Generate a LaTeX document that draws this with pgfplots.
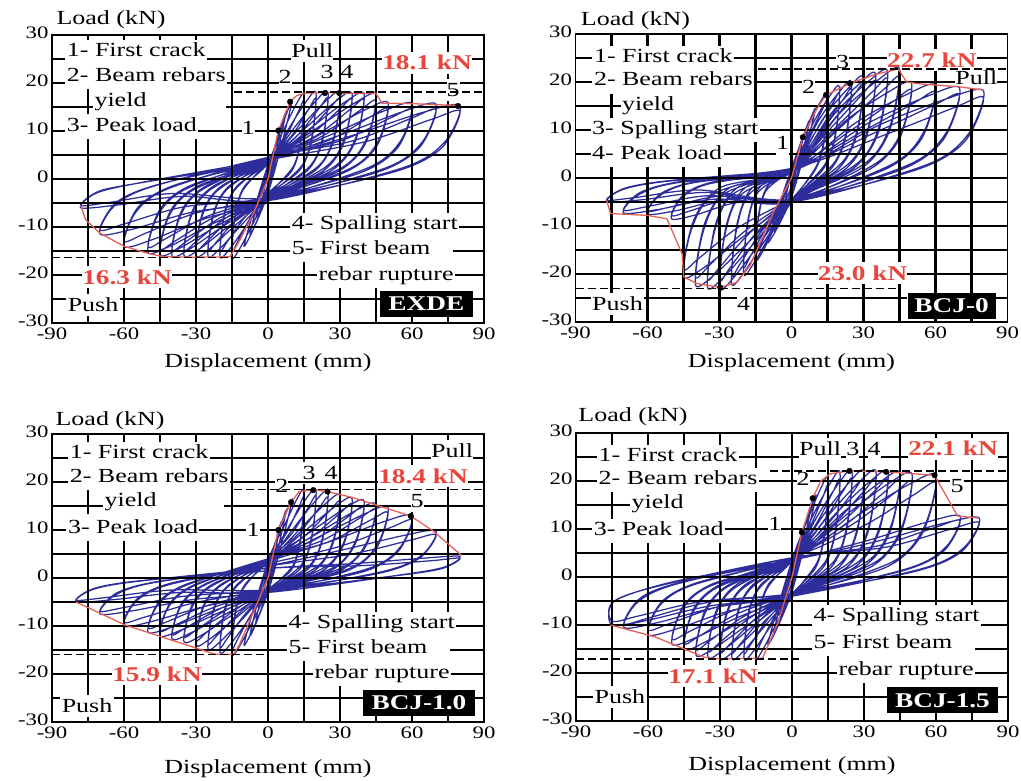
\documentclass[border=0pt]{standalone}
\usepackage{pgfplots}
\pgfplotsset{compat=1.18}
\usepackage{fontspec}
\setmainfont{Liberation Serif}[FakeStretch=1.3]

\definecolor{hblue}{RGB}{45,45,155}
\definecolor{envred}{RGB}{232,95,85}
\definecolor{valred}{RGB}{232,70,60}

\pgfplotsset{
  hyst/.style={
    anchor=south west,
    width=432pt, height=288pt, scale only axis,
    xmin=-90, xmax=90, ymin=-30, ymax=30,
    xtick={-90,-60,...,90}, xticklabels={-90,-60,-30,0,30,60,90},
    ytick={-30,-20,...,30}, yticklabels={-30,-20,-10,0,10,20,30},
    major tick length=0pt, minor tick length=0pt,
    axis line style={line width=1.8pt},
    tick label style={font=\fontsize{17.5}{18}\selectfont},
    xticklabel style={yshift=-1.5pt},
    yticklabel style={yshift=2.5pt},
    clip=false,
  },
  loops/.style={hblue, line width=1.25pt, smooth, tension=0.5},
  envelope/.style={envred, line width=1.3pt},
  peakline/.style={black, line width=1.4pt, dash pattern=on 8pt off 4pt},
  events/.style={only marks, mark=*, mark size=2.8pt, black},
  gridline/.style={black, line width=2.2pt, forget plot},
}
\tikzset{
  txt/.style={font=\fontsize{20}{22}\selectfont},
  leg/.style={txt, anchor=west, inner xsep=1.5pt, inner ysep=0pt,
    minimum height=24.5pt, text height=14pt, text depth=5pt},
  lab/.style={txt, inner sep=1.5pt},
  val/.style={inner sep=1.5pt, text=valred,
    font=\bfseries\fontsize{21}{22}\selectfont},
  tag/.style={fill=black, text=white, inner sep=0pt, minimum height=26pt,
    font=\bfseries\fontsize{21}{22}\selectfont},
}
% grid pieces: horizontal at load #1 from #2 to #3, vertical at displacement #1 from #2 to #3
\newcommand{\hs}[3]{\addplot[gridline] coordinates {(#2,#1) (#3,#1)};}
\newcommand{\vs}[3]{\addplot[gridline] coordinates {(#1,#2) (#1,#3)};}

\begin{document}
\begin{tikzpicture}[x=1pt,y=1pt]
\useasboundingbox (0,0) rectangle (1021,781);

% ---------------- EXDE ----------------
\begin{axis}[hyst, at={(52pt,458pt)}]
\addplot[loops] coordinates {
(0,0) (2.5,5) (0,-1) (-2.5,-4.5) (0,1)
(5,10) (0,-2) (-5,-8) (0,2)
(7.5,14) (0,-2.5) (-7.5,-11.5) (0,2.5)
(10,16.3) (0,-3) (-10,-14) (0,3)
(6.8,10.5) (12,15.8) (15,17.5) (13.8,8.8) (10.5,2.6) (0,-3.5) (-6.8,-9.8) (-12,-14.7) (-15,-16.3) (-13.8,-8.2) (-10.5,-2.4) (0,3.7)
(7.5,8.9) (12.8,14.2) (15,16.1) (13.5,7.2) (9.8,1.6) (0,-3) (-7.5,-8.2) (-12.8,-13.2) (-15,-15) (-13.5,-6.7) (-9.8,-1.5) (0,3.2)
(9,10.8) (16,16.2) (20,18) (18.4,9) (14,2.7) (0,-3.7) (-9,-9.7) (-16,-14.6) (-20,-16.2) (-18.4,-8.1) (-14,-2.4) (0,3.9)
(10,9.1) (17,14.6) (20,16.6) (18,7.5) (13,1.7) (0,-3.2) (-10,-8.2) (-17,-13.1) (-20,-14.9) (-18,-6.7) (-13,-1.5) (0,3.4)
(11.3,10.9) (20,16.3) (25,18.1) (23,9.1) (17.5,2.7) (0,-3.9) (-11.3,-9.7) (-20,-14.5) (-25,-16.1) (-23,-8.1) (-17.5,-2.4) (0,4)
(12.5,9.2) (21.3,14.7) (25,16.7) (22.5,7.5) (16.3,1.7) (0,-3.4) (-12.5,-8.1) (-21.3,-13) (-25,-14.8) (-22.5,-6.7) (-16.3,-1.5) (0,3.5)
(13.5,10.8) (24,16.2) (30,18) (27.6,9) (21,2.7) (0,-4) (-13.5,-9.6) (-24,-14.4) (-30,-16) (-27.6,-8) (-21,-2.4) (0,4.1)
(15,9.1) (25.5,14.6) (30,16.6) (27,7.5) (19.5,1.7) (0,-3.5) (-15,-8.1) (-25.5,-13) (-30,-14.7) (-27,-6.6) (-19.5,-1.5) (0,3.6)
(15.8,10.7) (28,16.1) (35,17.9) (32.2,9) (24.5,2.7) (0,-4.1) (-15.8,-9.6) (-28,-14.4) (-35,-16) (-32.2,-8) (-24.5,-2.4) (0,4.2)
(17.5,9.1) (29.8,14.5) (35,16.5) (31.5,7.4) (22.8,1.6) (0,-3.6) (-17.5,-8.1) (-29.8,-13) (-35,-14.7) (-31.5,-6.6) (-22.8,-1.5) (0,3.7)
(18,10.7) (32,16) (40,17.8) (36.8,8.9) (28,2.7) (0,-4.2) (-18,-9.6) (-32,-14.4) (-40,-16) (-36.8,-8) (-28,-2.4) (0,4.3)
(20,9) (34,14.4) (40,16.4) (36,7.4) (26,1.6) (0,-3.7) (-20,-8.1) (-34,-13) (-40,-14.7) (-36,-6.6) (-26,-1.5) (0,3.8)
(20.3,10.6) (36,15.8) (45,17.6) (41.4,8.8) (31.5,2.6) (0,-4.3) (-20.3,-9.5) (-36,-14.2) (-45,-15.8) (-41.4,-7.9) (-31.5,-2.4) (0,4.2)
(22.5,8.9) (38.3,14.3) (45,16.2) (40.5,7.3) (29.3,1.6) (0,-3.8) (-22.5,-8) (-38.3,-12.8) (-45,-14.5) (-40.5,-6.5) (-29.3,-1.5) (0,3.7)
(22.5,9.5) (40,14.3) (50,15.9) (46,8) (35,2.4) (0,-4.4) (-22.5,-9.2) (-40,-13.8) (-50,-15.3) (-46,-7.7) (-35,-2.3) (0,4.3)
(25,8) (42.5,12.9) (50,14.6) (45,6.6) (32.5,1.5) (0,-3.9) (-25,-7.7) (-42.5,-12.4) (-50,-14.1) (-45,-6.3) (-32.5,-1.4) (0,3.8)
(27,9.4) (48,14.1) (60,15.7) (55.2,7.9) (42,2.4) (0,-4.5) (-27,-8.4) (-48,-12.6) (-60,-14) (-55.2,-7) (-42,-2.1) (0,4.4)
(30,7.9) (51,12.7) (60,14.4) (54,6.5) (39,1.4) (0,-4) (-30,-7.1) (-51,-11.3) (-60,-12.9) (-54,-5.8) (-39,-1.3) (0,3.9)
(31.5,9.4) (56,14) (70,15.6) (64.4,7.8) (49,2.3) (0,-4.5) (-31.5,-6.9) (-56,-10.4) (-70,-11.5) (-64.4,-5.8) (-49,-1.7) (0,4.5)
(35,7.9) (59.5,12.6) (70,14.4) (63,6.5) (45.5,1.4) (0,-4) (-35,-5.8) (-59.5,-9.3) (-70,-10.6) (-63,-4.8) (-45.5,-1.1) (0,4)
(36,9.2) (64,13.8) (80,15.3) (73.6,7.7) (56,2.3) (0,-4.5) (-35.1,-3.6) (-62.4,-5.4) (-78,-6) (-71.8,-3) (-54.6,-0.9) (0,4)
(40,7.7) (68,12.4) (80,14.1) (72,6.3) (52,1.4) (0,-4) (-39,-3) (-66.3,-4.9) (-78,-5.5) (-70.2,-2.5) (-50.7,-0.6) (0,3.5)
};
% grid, left open where the annotations sit
\hs{25}{-90}{-84.5} \hs{25}{-25.5}{9.75} \hs{25}{27.25}{47.6} \hs{25}{84.9}{90}
\hs{20}{-90}{-84.5} \hs{20}{-17.05}{4.4} \hs{20}{9.8}{74.4} \hs{20}{79.8}{90}
\hs{15}{-90}{-73} \hs{15}{-17.55}{90}
\hs{10}{-90}{-84.5} \hs{10}{-29.05}{-11} \hs{10}{-5.6}{90}
\hs{5}{-90}{90} \hs{0}{-90}{90} \hs{-5}{-90}{90}
\hs{-10}{-90}{9.2} \hs{-10}{79.65}{90}
\hs{-15}{-90}{9.2} \hs{-15}{77.1}{90}
\hs{-20}{-90}{-77.4} \hs{-20}{-40.1}{20.4} \hs{-20}{77.85}{90}
\hs{-25}{-90}{-84} \hs{-25}{-61.8}{46.6} \hs{-25}{85.4}{90}
\vs{-75}{-30}{-28.6} \vs{-75}{-23.9}{-22.7} \vs{-75}{-18.1}{8.25} \vs{-75}{13.45}{18.7} \vs{-75}{29.05}{30}
\vs{-60}{-30}{-22.7} \vs{-60}{-18.1}{8.25} \vs{-60}{29.05}{30}
\vs{-45}{-30}{-22.7} \vs{-45}{-18.1}{8.25} \vs{-45}{29.05}{30}
\vs{-30}{-30}{8.25} \vs{-30}{29.05}{30}
\vs{-15}{-30}{30} \vs{0}{-30}{30}
\vs{15}{-30}{-17.35} \vs{15}{-7.05}{24.4} \vs{15}{29}{30}
\vs{30}{-30}{-22.75} \vs{30}{-7.05}{30}
\vs{45}{-30}{-22.75} \vs{45}{-7.05}{30}
\vs{60}{-30}{-28.7} \vs{60}{-7.05}{21.9} \vs{60}{26.5}{30}
\vs{75}{-30}{-28.7} \vs{75}{-7.05}{16.2} \vs{75}{20.8}{21.9} \vs{75}{26.5}{30}
\addplot[envelope] coordinates {
(-78,-5.5) (-76,-8.5) (-70,-11.3) (-60,-14) (-50,-15.5) (-43.5,-16.2) (-30,-16.3)
(-15.8,-16.2) (-12,-13) (-6,-7.1) (0,0) (4.3,10.1) (9.2,16.1) (12,17.4) (16,17.9)
(23.7,18) (29.7,17.9) (45,17.8) (47.5,15.8) (60,15.7) (79.2,15.3)
};
\addplot[peakline] coordinates {(-14,18.1) (90,18.1)};
\addplot[peakline] coordinates {(-90,-16.3) (0,-16.3)};
\addplot[events] coordinates {(4.3,10.1) (9.2,16.1) (23.7,17.9) (29.7,17.9) (79.2,15.2)};
\node[leg] at (axis cs:-84.5,26.5) {1- First crack};
\node[leg] at (axis cs:-84.5,21.25) {2- Beam rebars};
\node[leg] at (axis cs:-73,16) {yield};
\node[leg] at (axis cs:-84.5,10.8) {3- Peak load};
\node[leg] at (axis cs:9.2,-9.6) {4- Spalling start};
\node[leg] at (axis cs:9.2,-14.8) {5- First beam};
\node[leg] at (axis cs:20.4,-20.2) {rebar rupture};
\node[lab] at (axis cs:18.5,26.7) {Pull};
\node[val] at (axis cs:66.25,24.2) {18.1 kN};
\node[lab] at (axis cs:-8.3,10.6) {1};
\node[lab] at (axis cs:7.1,21.25) {2};
\node[lab] at (axis cs:24.6,22.3) {3};
\node[lab] at (axis cs:32.9,22.3) {4};
\node[lab] at (axis cs:77.1,18.5) {5};
\node[val] at (axis cs:-58.75,-20.4) {16.3 kN};
\node[lab] at (axis cs:-72.9,-26.25) {Push};
\node[tag, minimum width=93pt] at (axis cs:66,-26) {EXDE};
\node[txt] at (axis cs:-65.4,33.1) {Load (kN)};
\node[txt] at (axis cs:0,-38.3) {Displacement (mm)};
\end{axis}

% ---------------- BCJ-0 ----------------
\begin{axis}[hyst, at={(575.5pt,459pt)}]
\addplot[loops] coordinates {
(0,0) (2.5,5) (0,-1.5) (-2.5,-4.5) (0,1)
(5,9) (0,-2.5) (-5,-8) (0,1.5)
(7.5,12) (0,-3.5) (-7.5,-11) (0,2)
(10,14.5) (0,-4) (-10,-13.5) (0,2)
(6.8,10.5) (12,15.8) (15,17.5) (13.8,8.8) (10.5,2.6) (0,-5) (-6.8,-10.2) (-12,-15.3) (-15,-17) (-13.8,-8.5) (-10.5,-2.6) (0,2)
(7.5,8.9) (12.8,14.2) (15,16.1) (13.5,7.2) (9.8,1.6) (0,-4.5) (-7.5,-8.6) (-12.8,-13.8) (-15,-15.6) (-13.5,-7) (-9.8,-1.6) (0,1.5)
(9,11.4) (16,17.1) (20,19) (18.4,9.5) (14,2.9) (0,-5) (-9,-12) (-16,-18) (-20,-20) (-18.4,-10) (-14,-3) (0,2)
(10,9.6) (17,15.4) (20,17.5) (18,7.9) (13,1.7) (0,-4.5) (-10,-10.1) (-17,-16.2) (-20,-18.4) (-18,-8.3) (-13,-1.8) (0,1.5)
(11.3,12) (20,18) (25,20) (23,10) (17.5,3) (0,-5) (-11.3,-13.2) (-20,-19.8) (-25,-22) (-23,-11) (-17.5,-3.3) (0,2)
(12.5,10.1) (21.3,16.2) (25,18.4) (22.5,8.3) (16.3,1.8) (0,-4.5) (-12.5,-11.1) (-21.3,-17.8) (-25,-20.2) (-22.5,-9.1) (-16.3,-2) (0,1.5)
(13.5,12.6) (24,18.9) (30,21) (27.6,10.5) (21,3.2) (0,-5) (-13.5,-13.8) (-24,-20.7) (-30,-23) (-27.6,-11.5) (-21,-3.5) (0,2)
(15,10.6) (25.5,17) (30,19.3) (27,8.7) (19.5,1.9) (0,-4.5) (-15,-11.6) (-25.5,-18.6) (-30,-21.2) (-27,-9.5) (-19.5,-2.1) (0,1.5)
(15.8,13) (28,19.5) (35,21.7) (32.2,10.9) (24.5,3.3) (0,-5) (-15.8,-13.7) (-28,-20.5) (-35,-22.8) (-32.2,-11.4) (-24.5,-3.4) (0,2)
(17.5,11) (29.8,17.6) (35,20) (31.5,9) (22.8,2) (0,-4.5) (-17.5,-11.5) (-29.8,-18.5) (-35,-21) (-31.5,-9.4) (-22.8,-2.1) (0,1.5)
(18,13.4) (32,20.1) (40,22.3) (36.8,11.2) (28,3.3) (0,-5) (-18,-13.4) (-32,-20.1) (-40,-22.3) (-36.8,-11.2) (-28,-3.3) (0,2)
(20,11.3) (34,18.1) (40,20.5) (36,9.2) (26,2.1) (0,-4.5) (-20,-11.3) (-34,-18.1) (-40,-20.5) (-36,-9.2) (-26,-2.1) (0,1.5)
(20.3,13.6) (36,20.4) (45,22.7) (41.4,11.4) (31.5,3.4) (0,-5) (-20.3,-12.3) (-36,-18.5) (-45,-20.5) (-41.4,-10.3) (-31.5,-3.1) (0,2)
(22.5,11.5) (38.3,18.4) (45,20.9) (40.5,9.4) (29.3,2.1) (0,-4.5) (-22.5,-10.4) (-38.3,-16.6) (-45,-18.9) (-40.5,-8.5) (-29.3,-1.9) (0,1.5)
(22.5,11.9) (40,17.8) (50,19.8) (46,9.9) (35,3) (0,-5) (-22.5,-5.1) (-40,-7.7) (-50,-8.5) (-46,-4.3) (-35,-1.3) (0,2)
(25,10) (42.5,16) (50,18.2) (45,8.2) (32.5,1.8) (0,-4.5) (-25,-4.3) (-42.5,-6.9) (-50,-7.8) (-45,-3.5) (-32.5,-0.8) (0,1.5)
(27,11.6) (48,17.4) (60,19.3) (55.2,9.7) (42,2.9) (0,-5) (-27,-4.5) (-48,-6.8) (-60,-7.5) (-55.2,-3.8) (-42,-1.1) (0,2)
(30,9.8) (51,15.6) (60,17.8) (54,8) (39,1.8) (0,-4.5) (-30,-3.8) (-51,-6.1) (-60,-6.9) (-54,-3.1) (-39,-0.7) (0,1.5)
(31.5,11.3) (56,16.9) (70,18.8) (64.4,9.4) (49,2.8) (0,-5) (-31.5,-4.4) (-56,-6.6) (-70,-7.3) (-64.4,-3.7) (-49,-1.1) (0,2)
(35,9.5) (59.5,15.2) (70,17.3) (63,7.8) (45.5,1.7) (0,-4.5) (-35,-3.7) (-59.5,-5.9) (-70,-6.7) (-63,-3) (-45.5,-0.7) (0,1.5)
(36,10.9) (64,16.4) (80,18.2) (73.6,9.1) (56,2.7) (0,-5) (-34.7,-3) (-61.6,-4.5) (-77,-5) (-70.8,-2.5) (-53.9,-0.8) (0,2)
(40,9.2) (68,14.7) (80,16.7) (72,7.5) (52,1.7) (0,-4.5) (-38.5,-2.5) (-65.5,-4.1) (-77,-4.6) (-69.3,-2.1) (-50,-0.5) (0,1.5)
};
\hs{25}{-90}{-83} \hs{25}{-24}{18.5} \hs{25}{24}{39.9} \hs{25}{77.1}{90}
\hs{20}{-90}{-83} \hs{20}{-15.6}{4.4} \hs{20}{9.8}{68.25} \hs{20}{85.75}{90}
\hs{15}{-90}{-71.25} \hs{15}{-15.8}{90}
\hs{10}{-90}{-83.75} \hs{10}{-13.3}{90}
\hs{5}{-90}{-83.75} \hs{5}{-28.3}{-6.5} \hs{5}{-1}{90}
\hs{0}{-90}{90} \hs{-5}{-90}{90} \hs{-10}{-90}{90} \hs{-15}{-90}{90}
\hs{-20}{-90}{10.9} \hs{-20}{48.3}{90}
\hs{-25}{-90}{-83.6} \hs{-25}{-61.4}{-22.7} \hs{-25}{-17.3}{48.3} \hs{-25}{85}{90}
\vs{-75}{-30}{-28.6} \vs{-75}{-23.9}{2.25} \vs{-75}{12.45}{17.55} \vs{-75}{27.55}{30}
\vs{-60}{-30}{2.25} \vs{-60}{27.55}{30}
\vs{-45}{-30}{2.25} \vs{-45}{27.55}{30}
\vs{-30}{-30}{2.25} \vs{-30}{27.55}{30}
\vs{-15}{-30}{7.45} \vs{-15}{12.55}{30}
\vs{0}{-30}{30}
\vs{15}{-30}{-22.1} \vs{15}{-17.5}{30}
\vs{30}{-30}{-22.1} \vs{30}{-17.5}{30}
\vs{45}{-30}{-22.1} \vs{45}{-17.5}{22.3} \vs{45}{26.9}{30}
\vs{60}{-30}{-29.3} \vs{60}{-23.9}{22.3} \vs{60}{26.9}{30}
\vs{75}{-30}{-29.3} \vs{75}{-23.9}{18.5} \vs{75}{26.9}{30}
\addplot[envelope] coordinates {
(-77,-4.7) (-75.4,-7.4) (-60,-7.8) (-51.9,-8.5) (-45.6,-15.8) (-44.9,-20.6) (-39.4,-22)
(-29.7,-22.8) (-22.7,-21.7) (-17.2,-18.2) (-7.5,-7.1) (0,0) (4.7,8.5) (10,14) (14.4,17.3)
(24.4,19.7) (35,21.6) (44.5,22.7) (48,20) (53.5,19.6) (70,19) (80,18.3)
};
\addplot[peakline] coordinates {(-14,22.7) (90,22.7)};
\addplot[peakline] coordinates {(-90,-23) (45,-23)};
\addplot[events] coordinates {(4.7,8.5) (14.4,17.3) (24.4,19.7) (-29.7,-22.8)};
\node[leg] at (axis cs:-83,25) {1- First crack};
\node[leg] at (axis cs:-83,20.2) {2- Beam rebars};
\node[leg] at (axis cs:-71.25,15) {yield};
\node[leg] at (axis cs:-83.75,10) {3- Spalling start};
\node[leg] at (axis cs:-83.75,4.8) {4- Peak load};
\node[lab] at (axis cs:21.25,24.2) {3};
\node[lab] at (axis cs:7.1,19) {2};
\node[lab] at (axis cs:-3.75,7.3) {1};
\node[lab] at (axis cs:-20,-26.25) {4};
\node[val] at (axis cs:58.5,24.6) {22.7 kN};
\node[lab] at (axis cs:77,20.8) {Pull};
\node[val] at (axis cs:29.6,-19.8) {23.0 kN};
\node[lab] at (axis cs:-72.5,-26.25) {Push};
\node[tag, minimum width=88pt] at (axis cs:66.7,-26.6) {BCJ-0};
\node[txt] at (axis cs:-65,32.7) {Load (kN)};
\node[txt] at (axis cs:0,-38.5) {Displacement (mm)};
\end{axis}

% ---------------- BCJ-1.0 ----------------
\begin{axis}[hyst, at={(52pt,59pt)}]
\addplot[loops] coordinates {
(0,0) (2.5,5) (0,-1) (-2.5,-5) (0,1)
(5,11) (0,-2) (-5,-9) (0,2)
(7.5,14) (0,-2.5) (-7.5,-12) (0,3)
(10,16.3) (0,-3) (-10,-14) (0,3.5)
(6.8,10.9) (12,16.4) (15,18.2) (13.8,9.1) (10.5,2.7) (0,-3) (-6.8,-9.5) (-12,-14.3) (-15,-15.9) (-13.8,-8) (-10.5,-2.4) (0,4)
(7.5,9.2) (12.8,14.7) (15,16.7) (13.5,7.5) (9.8,1.7) (0,-2.5) (-7.5,-8) (-12.8,-12.9) (-15,-14.6) (-13.5,-6.6) (-9.8,-1.5) (0,3.5)
(9,11) (16,16.6) (20,18.4) (18.4,9.2) (14,2.8) (0,-3) (-9,-9.3) (-16,-14) (-20,-15.5) (-18.4,-7.8) (-14,-2.3) (0,4)
(10,9.3) (17,14.9) (20,16.9) (18,7.6) (13,1.7) (0,-2.5) (-10,-7.8) (-17,-12.6) (-20,-14.3) (-18,-6.4) (-13,-1.4) (0,3.5)
(11.3,10.8) (20,16.2) (25,18) (23,9) (17.5,2.7) (0,-3) (-11.3,-8.9) (-20,-13.3) (-25,-14.8) (-23,-7.4) (-17.5,-2.2) (0,4)
(12.5,9.1) (21.3,14.6) (25,16.6) (22.5,7.5) (16.3,1.7) (0,-2.5) (-12.5,-7.5) (-21.3,-12) (-25,-13.6) (-22.5,-6.1) (-16.3,-1.4) (0,3.5)
(13.5,10.3) (24,15.5) (30,17.2) (27.6,8.6) (21,2.6) (0,-3) (-13.5,-8.4) (-24,-12.6) (-30,-14) (-27.6,-7) (-21,-2.1) (0,4)
(15,8.7) (25.5,13.9) (30,15.8) (27,7.1) (19.5,1.6) (0,-2.5) (-15,-7.1) (-25.5,-11.3) (-30,-12.9) (-27,-5.8) (-19.5,-1.3) (0,3.5)
(15.8,10) (28,14.9) (35,16.6) (32.2,8.3) (24.5,2.5) (0,-3) (-15.8,-8) (-28,-12) (-35,-13.3) (-32.2,-6.7) (-24.5,-2) (0,4)
(17.5,8.4) (29.8,13.4) (35,15.3) (31.5,6.9) (22.8,1.5) (0,-2.5) (-17.5,-6.7) (-29.8,-10.8) (-35,-12.2) (-31.5,-5.5) (-22.8,-1.2) (0,3.5)
(18,9.7) (32,14.5) (40,16.1) (36.8,8.1) (28,2.4) (0,-3) (-18,-7.6) (-32,-11.4) (-40,-12.7) (-36.8,-6.4) (-28,-1.9) (0,4)
(20,8.1) (34,13) (40,14.8) (36,6.7) (26,1.5) (0,-2.5) (-20,-6.4) (-34,-10.3) (-40,-11.7) (-36,-5.3) (-26,-1.2) (0,3.5)
(20.3,9.2) (36,13.9) (45,15.4) (41.4,7.7) (31.5,2.3) (0,-3) (-20.3,-7.2) (-36,-10.8) (-45,-12) (-41.4,-6) (-31.5,-1.8) (0,4)
(22.5,7.8) (38.3,12.5) (45,14.2) (40.5,6.4) (29.3,1.4) (0,-2.5) (-22.5,-6.1) (-38.3,-9.7) (-45,-11) (-40.5,-5) (-29.3,-1.1) (0,3.5)
(22.5,8.9) (40,13.3) (50,14.8) (46,7.4) (35,2.2) (0,-3) (-22.5,-6.8) (-40,-10.2) (-50,-11.3) (-46,-5.7) (-35,-1.7) (0,4)
(25,7.5) (42.5,12) (50,13.6) (45,6.1) (32.5,1.4) (0,-2.5) (-25,-5.7) (-42.5,-9.2) (-50,-10.4) (-45,-4.7) (-32.5,-1) (0,3.5)
(27,7.8) (48,11.7) (60,13) (55.2,6.5) (42,2) (0,-3) (-27,-6) (-48,-9) (-60,-10) (-55.2,-5) (-42,-1.5) (0,3)
(30,6.6) (51,10.5) (60,12) (54,5.4) (39,1.2) (0,-2.5) (-30,-5.1) (-51,-8.1) (-60,-9.2) (-54,-4.1) (-39,-0.9) (0,2.5)
(31.5,5.9) (56,8.8) (70,9.8) (64.4,4.9) (49,1.5) (0,-3) (-31.5,-4.5) (-56,-6.8) (-70,-7.5) (-64.4,-3.8) (-49,-1.1) (0,2.5)
(35,5) (59.5,7.9) (70,9) (63,4.1) (45.5,0.9) (0,-2.5) (-35,-3.8) (-59.5,-6.1) (-70,-6.9) (-63,-3.1) (-45.5,-0.7) (0,2)
(36,3) (64,4.1) (80,4.5) (73.6,2.3) (56,0.7) (0,-3) (-36,-3) (-64,-4.5) (-80,-5) (-73.6,-2.5) (-56,-0.8) (0,2)
(40,2.6) (68,3.6) (80,4.1) (72,1.9) (52,0.4) (0,-2.5) (-40,-2.5) (-68,-4.1) (-80,-4.6) (-72,-2.1) (-52,-0.5) (0,1.5)
};
\hs{25}{-90}{-83.3} \hs{25}{-24.25}{67.95} \hs{25}{85.45}{90}
\hs{20}{-90}{-83.3} \hs{20}{-15.85}{3.1} \hs{20}{8.5}{45.95} \hs{20}{83.25}{90}
\hs{15}{-90}{-68.75} \hs{15}{-18.3}{59.4} \hs{15}{64.8}{90}
\hs{10}{-90}{-84} \hs{10}{-28.55}{-9} \hs{10}{-3.5}{90}
\hs{5}{-90}{90} \hs{0}{-90}{90} \hs{-5}{-90}{90}
\hs{-10}{-90}{7.9} \hs{-10}{78.35}{90}
\hs{-15}{-90}{7.9} \hs{-15}{75.8}{90}
\hs{-20}{-90}{-64.9} \hs{-20}{-27.6}{18.75} \hs{-20}{76.2}{90}
\hs{-25}{-90}{-86.5} \hs{-25}{-64.3}{39.55} \hs{-25}{86.25}{90}
\vs{-75}{-30}{-29.05} \vs{-75}{-24.35}{7.65} \vs{-75}{13.25}{18.25} \vs{-75}{28.35}{30}
\vs{-60}{-30}{-22.3} \vs{-60}{-17.7}{7.65} \vs{-60}{28.35}{30}
\vs{-45}{-30}{-22.3} \vs{-45}{-17.7}{7.65} \vs{-45}{28.35}{30}
\vs{-30}{-30}{-22.3} \vs{-30}{-17.7}{7.65} \vs{-30}{28.35}{30}
\vs{-15}{-30}{30} \vs{0}{-30}{30}
\vs{15}{-30}{-17.35} \vs{15}{-7.05}{19.6} \vs{15}{24.2}{30}
\vs{30}{-30}{-22.55} \vs{30}{-7.05}{30}
\vs{45}{-30}{-28.7} \vs{45}{-7.05}{30}
\vs{60}{-30}{-28.7} \vs{60}{-7.05}{13.7} \vs{60}{23.55}{30}
\vs{75}{-30}{-28.7} \vs{75}{-7.05}{18.95} \vs{75}{28.8}{30}
\addplot[envelope] coordinates {
(-80,-5) (-59.5,-9.8) (-22,-15.9) (-14.4,-15.9) (-12,-14) (-6,-7) (0,0) (4.3,10) (9.6,15.8)
(13,18) (18.8,18.4) (24.8,18) (35,16.8) (45,15.2) (59.5,12.9) (68.8,9.8) (80.6,4.7)
};
\addplot[peakline] coordinates {(-14,18.4) (90,18.4)};
\addplot[peakline] coordinates {(-90,-15.9) (0,-15.9)};
\addplot[events] coordinates {(4.3,10) (9.6,15.8) (18.8,18.3) (24.8,18) (59.5,12.9)};
\node[leg] at (axis cs:-83.3,25.8) {1- First crack};
\node[leg] at (axis cs:-83.3,20.8) {2- Beam rebars};
\node[leg] at (axis cs:-68.75,15.8) {yield};
\node[leg] at (axis cs:-84,10.2) {3- Peak load};
\node[leg] at (axis cs:7.9,-9.6) {4- Spalling start};
\node[leg] at (axis cs:7.9,-14.8) {5- First beam};
\node[leg] at (axis cs:18.75,-20) {rebar rupture};
\node[lab] at (axis cs:-6.25,10) {1};
\node[lab] at (axis cs:5.8,19.2) {2};
\node[lab] at (axis cs:17.1,21.9) {3};
\node[lab] at (axis cs:26.25,21.9) {4};
\node[lab] at (axis cs:62.1,16) {5};
\node[lab] at (axis cs:76.7,26.5) {Pull};
\node[val] at (axis cs:64.6,21.25) {18.4 kN};
\node[val] at (axis cs:-46.25,-20) {15.9 kN};
\node[lab] at (axis cs:-75.4,-26.7) {Push};
\node[tag, minimum width=112pt] at (axis cs:62.9,-26) {BCJ-1.0};
\node[txt] at (axis cs:-65.8,32.7) {Load (kN)};
\node[txt] at (axis cs:0,-39.8) {Displacement (mm)};
\end{axis}

% ---------------- BCJ-1.5 ----------------
\begin{axis}[hyst, at={(576pt,60pt)}]
\addplot[loops] coordinates {
(0,0) (2.5,4.5) (0,-1) (-2.5,-4) (0,1)
(5,9.5) (0,-2) (-5,-8) (0,2)
(7.5,13.5) (0,-2.5) (-7.5,-11.5) (0,3)
(10,17) (0,-3) (-10,-14) (0,3.5)
(6.8,12.3) (12,18.5) (15,20.5) (13.8,10.3) (10.5,3.1) (0,-4) (-6.8,-10) (-12,-15) (-15,-16.7) (-13.8,-8.4) (-10.5,-2.5) (0,4)
(7.5,10.4) (12.8,16.6) (15,18.9) (13.5,8.5) (9.8,1.9) (0,-3.5) (-7.5,-8.5) (-12.8,-13.5) (-15,-15.4) (-13.5,-6.9) (-9.8,-1.5) (0,3.5)
(9,13.1) (16,19.6) (20,21.8) (18.4,10.9) (14,3.3) (0,-4) (-9,-10.3) (-16,-15.4) (-20,-17.1) (-18.4,-8.6) (-14,-2.6) (0,4)
(10,11) (17,17.7) (20,20.1) (18,9) (13,2) (0,-3.5) (-10,-8.7) (-17,-13.9) (-20,-15.7) (-18,-7.1) (-13,-1.6) (0,3.5)
(11.3,13.3) (20,19.9) (25,22.1) (23,11.1) (17.5,3.3) (0,-4) (-11.3,-10.2) (-20,-15.3) (-25,-17) (-23,-8.5) (-17.5,-2.6) (0,4)
(12.5,11.2) (21.3,17.9) (25,20.3) (22.5,9.1) (16.3,2) (0,-3.5) (-12.5,-8.6) (-21.3,-13.8) (-25,-15.6) (-22.5,-7) (-16.3,-1.6) (0,3.5)
(13.5,13.2) (24,19.8) (30,22) (27.6,11) (21,3.3) (0,-4) (-13.5,-10.2) (-24,-15.3) (-30,-17) (-27.6,-8.5) (-21,-2.6) (0,4)
(15,11.1) (25.5,17.8) (30,20.2) (27,9.1) (19.5,2) (0,-3.5) (-15,-8.6) (-25.5,-13.8) (-30,-15.6) (-27,-7) (-19.5,-1.6) (0,3.5)
(15.8,13.2) (28,19.8) (35,22) (32.2,11) (24.5,3.3) (0,-4) (-15.8,-10) (-28,-15) (-35,-16.7) (-32.2,-8.4) (-24.5,-2.5) (0,4)
(17.5,11.1) (29.8,17.8) (35,20.2) (31.5,9.1) (22.8,2) (0,-3.5) (-17.5,-8.5) (-29.8,-13.5) (-35,-15.4) (-31.5,-6.9) (-22.8,-1.5) (0,3.5)
(18,13.1) (32,19.7) (40,21.9) (36.8,11) (28,3.3) (0,-4) (-18,-9.8) (-32,-14.7) (-40,-16.3) (-36.8,-8.2) (-28,-2.4) (0,4)
(20,11.1) (34,17.7) (40,20.1) (36,9.1) (26,2) (0,-3.5) (-20,-8.2) (-34,-13.2) (-40,-15) (-36,-6.7) (-26,-1.5) (0,3.5)
(20.3,13) (36,19.5) (45,21.7) (41.4,10.9) (31.5,3.3) (0,-4) (-20.3,-9) (-36,-13.5) (-45,-15) (-41.4,-7.5) (-31.5,-2.3) (0,4)
(22.5,11) (38.3,17.6) (45,20) (40.5,9) (29.3,2) (0,-3.5) (-22.5,-7.6) (-38.3,-12.2) (-45,-13.8) (-40.5,-6.2) (-29.3,-1.4) (0,3.5)
(22.5,12.9) (40,19.4) (50,21.5) (46,10.8) (35,3.2) (0,-4) (-22.5,-8.4) (-40,-12.6) (-50,-14) (-46,-7) (-35,-2.1) (0,4)
(25,10.9) (42.5,17.4) (50,19.8) (45,8.9) (32.5,2) (0,-3.5) (-25,-7.1) (-42.5,-11.3) (-50,-12.9) (-45,-5.8) (-32.5,-1.3) (0,3.5)
(27,12.7) (48,19.1) (60,21.2) (55.2,10.6) (42,3.2) (0,-4) (-27,-7.2) (-48,-10.8) (-60,-12) (-55.2,-6) (-42,-1.8) (0,4)
(30,10.7) (51,17.2) (60,19.5) (54,8.8) (39,2) (0,-3.5) (-30,-6.1) (-51,-9.7) (-60,-11) (-54,-5) (-39,-1.1) (0,3.5)
(31.5,7.6) (56,11.4) (70,12.7) (64.4,6.4) (49,1.9) (0,-4) (-31.5,-6.3) (-56,-9.5) (-70,-10.5) (-64.4,-5.3) (-49,-1.6) (0,4)
(35,6.4) (59.5,10.3) (70,11.7) (63,5.3) (45.5,1.2) (0,-3.5) (-35,-5.3) (-59.5,-8.5) (-70,-9.7) (-63,-4.3) (-45.5,-1) (0,3.5)
(35.1,7.4) (62.4,11.1) (78,12.3) (71.8,6.2) (54.6,1.8) (0,-4) (-33.8,-6) (-60,-9) (-75,-10) (-74,-5) (-52.5,-1.5) (0,4)
(39,6.2) (66.3,10) (78,11.3) (70.2,5.1) (50.7,1.1) (0,-3.5) (-37.5,-5.1) (-63.8,-8.1) (-75,-9.2) (-74,-5) (-48.8,-0.9) (0,3.5)
};
\hs{25}{-90}{-81.25} \hs{25}{-22.2}{2.95} \hs{25}{20.45}{22.7} \hs{25}{28.1}{31.5} \hs{25}{36.9}{48.45} \hs{25}{85.75}{90}
\hs{20}{-90}{-81.25} \hs{20}{-13.8}{1.9} \hs{20}{7.3}{66} \hs{20}{71.5}{90}
\hs{15}{-90}{-67.5} \hs{15}{-15.45}{90}
\hs{10}{-90}{-83.3} \hs{10}{-27.85}{-9.8} \hs{10}{-4.4}{90}
\hs{5}{-90}{90} \hs{0}{-90}{90} \hs{-5}{-90}{90}
\hs{-10}{-90}{8.3} \hs{-10}{78.75}{90}
\hs{-15}{-90}{8.3} \hs{-15}{76.2}{90}
\hs{-20}{-90}{-51.55} \hs{-20}{-14.25}{18.75} \hs{-20}{76.2}{90}
\hs{-25}{-90}{-82.8} \hs{-25}{-60.6}{39.6} \hs{-25}{85.8}{90}
\vs{-75}{-30}{-27.35} \vs{-75}{-22.65}{7.05} \vs{-75}{12.15}{17.65} \vs{-75}{27.55}{30}
\vs{-60}{-30}{7.05} \vs{-60}{27.55}{30}
\vs{-45}{-30}{-22.9} \vs{-45}{-18.3}{7.05} \vs{-45}{27.55}{30}
\vs{-30}{-30}{-22.9} \vs{-30}{-18.3}{7.05} \vs{-30}{27.55}{30}
\vs{-15}{-30}{-22.9} \vs{-15}{-18.3}{17.65} \vs{-15}{22.75}{30}
\vs{0}{-30}{30}
\vs{15}{-30}{-16.55} \vs{15}{-5.75}{24.4} \vs{15}{29}{30}
\vs{30}{-30}{-22.15} \vs{30}{-5.75}{30}
\vs{45}{-30}{-28.4} \vs{45}{-5.75}{30}
\vs{60}{-30}{-28.4} \vs{60}{-5.75}{24.4} \vs{60}{29}{30}
\vs{75}{-30}{-28.4} \vs{75}{-5.75}{24.4} \vs{75}{29}{30}
\addplot[envelope] coordinates {
(-75.7,-10) (-56.9,-12.5) (-36.7,-16.7) (-30,-17.1) (-12.3,-16.9) (-6,-9.7) (0,0) (4.1,9.3)
(8.6,16.4) (12,20) (16,21.5) (23.9,22.1) (39.2,21.9) (59.4,21.2) (69,12.7) (77.5,12.3)
};
\addplot[peakline] coordinates {(-9,22.1) (90,22.1)};
\addplot[peakline] coordinates {(-90,-17.1) (3,-17.1)};
\addplot[events] coordinates {(4.1,9.3) (8.6,16.4) (23.9,22.1) (39.2,21.9) (59.4,21.2)};
\node[leg] at (axis cs:-81.25,25) {1- First crack};
\node[leg] at (axis cs:-81.25,20.2) {2- Beam rebars};
\node[leg] at (axis cs:-67.5,15.2) {yield};
\node[leg] at (axis cs:-83.3,9.6) {3- Peak load};
\node[leg] at (axis cs:8.3,-8.3) {4- Spalling start};
\node[leg] at (axis cs:8.3,-14) {5- First beam};
\node[leg] at (axis cs:18.75,-19.6) {rebar rupture};
\node[lab] at (axis cs:11.7,26.7) {Pull};
\node[lab] at (axis cs:25.4,26.7) {3};
\node[lab] at (axis cs:34.2,26.7) {4};
\node[val] at (axis cs:67.1,26.7) {22.1 kN};
\node[lab] at (axis cs:4.6,20.4) {2};
\node[lab] at (axis cs:68.75,19) {5};
\node[lab] at (axis cs:-7.1,11) {1};
\node[val] at (axis cs:-32.9,-20.6) {17.1 kN};
\node[lab] at (axis cs:-71.7,-25) {Push};
\node[tag, minimum width=111pt] at (axis cs:62.7,-25.7) {BCJ-1.5};
\node[txt] at (axis cs:-66.25,33.3) {Load (kN)};
\node[txt] at (axis cs:0,-39.4) {Displacement (mm)};
\end{axis}
\end{tikzpicture}
\end{document}
